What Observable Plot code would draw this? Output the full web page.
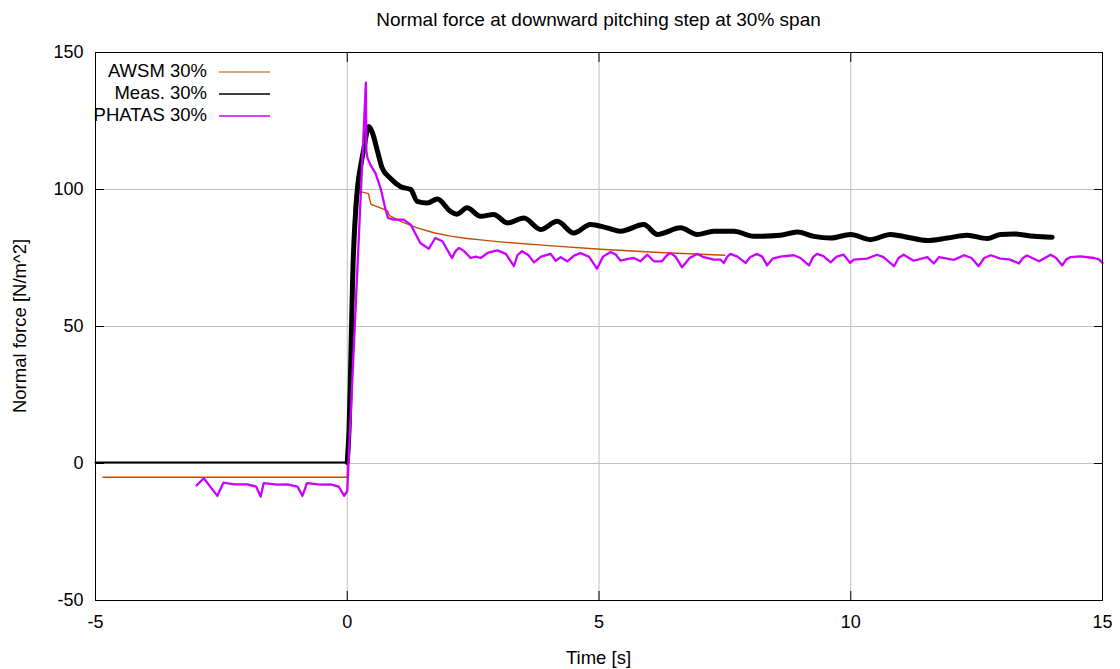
<!DOCTYPE html>
<html><head><meta charset="utf-8">
<script src="https://cdn.jsdelivr.net/npm/d3@7"></script>
<script src="https://cdn.jsdelivr.net/npm/@observablehq/plot@0.6"></script>
<style>
body{margin:0;background:#fff;font-family:"Liberation Sans",Arial,sans-serif;}
#wrap{position:relative;width:1120px;height:669px;overflow:hidden;}
.t{position:absolute;font-size:18.5px;line-height:18px;color:#000;white-space:nowrap;}
</style></head><body><div id="wrap"></div>
<script>
// ---- data ----
const titleText = "Normal force at downward pitching step at 30% span";
const xLabel = "Time [s]";
const yLabel = "Normal force [N/m^2]";
const xTicks = [-5, 0, 5, 10, 15];
const yTicks = [-50, 0, 50, 100, 150];
const seriesNames = ["AWSM 30%", "Meas. 30%", "PHATAS 30%"];
const seriesColors = ["#c84a00", "#000000", "#cc00ff"];

const awsmT = [-4.85,-0.01,0,0.12,0.15,0.26,0.42,0.47,0.66,0.8,0.84,1.06,1.39,1.72,2.05,2.38,2.65,3.04,4.0,5.03,6.2,7.5];
const awsmV = [-5,-5,-5,85,97.5,99.2,98.5,94.6,93.3,92.2,90.5,88.4,86,84.2,83,82.1,81.6,80.9,79.5,78.2,77,76];

const measT = [-5,0,0.03,0.12,0.2,0.28,0.33,0.43,0.5,0.6,0.69,0.86,1.06,1.26,1.39,1.59,1.79,2.05,2.18,2.38,2.65,2.91,3.18,3.51,3.84,4.17,4.5,4.83,5.16,5.43,5.89,6.16,6.62,6.95,7.28,7.68,8.07,8.6,8.94,9.27,9.6,10,10.39,10.79,11.12,11.52,11.92,12.31,12.71,12.97,13.24,13.64,14.0];
const measV = [0.4,0.4,10,75,100,110,115,123,120.7,114,108,104,101,100,95.7,95.1,96.5,92,91,93.3,90.2,90.9,87.8,89.6,85.4,88.4,84.1,87.2,86,84.8,87.2,83.6,86,83.6,84.8,84.8,82.9,83.3,84.5,82.9,82.3,83.6,81.7,83.6,82.6,81.4,82.3,83.3,82.1,83.6,83.8,82.9,82.6];

const phatasT = [-2.99,-2.85,-2.58,-2.46,-2.25,-1.99,-1.81,-1.72,-1.66,-1.39,-1.19,-0.99,-0.89,-0.8,-0.53,-0.33,-0.17,-0.06,0,0.37,0.38,0.4,0.46,0.56,0.66,0.76,0.81,0.92,1.12,1.26,1.45,1.62,1.75,1.89,2.08,2.15,2.22,2.32,2.45,2.55,2.65,2.8,2.98,3.15,3.31,3.38,3.47,3.6,3.71,3.85,4.04,4.14,4.24,4.37,4.5,4.63,4.8,4.96,5.08,5.23,5.33,5.43,5.55,5.69,5.82,5.96,6.09,6.25,6.35,6.42,6.52,6.65,6.8,6.95,7.08,7.28,7.41,7.48,7.55,7.61,7.75,7.91,8.0,8.14,8.24,8.34,8.45,8.6,8.87,9.0,9.17,9.25,9.33,9.45,9.6,9.72,9.86,9.99,10.06,10.33,10.52,10.65,10.86,10.95,11.05,11.25,11.52,11.65,11.75,12.05,12.25,12.4,12.54,12.65,12.78,12.97,13.15,13.34,13.42,13.5,13.74,13.97,14.08,14.2,14.28,14.36,14.56,14.83,14.93,15.0];
const phatasV = [-8,-5.4,-11.8,-7,-7.6,-7.6,-8.4,-12.1,-7.2,-7.7,-7.6,-8.4,-11.8,-7.2,-7.7,-7.6,-8.4,-11.8,-10,139,114,111.6,109,106,100.6,92.7,89.6,89,89,87.2,80.5,78.4,82.3,81.1,75,77.5,78.7,77.5,75,75.5,75,77,77.8,76.5,72,76,77.5,76,73.4,75.5,76.5,74,75.3,73.8,75.8,76.8,75.5,71.1,75.5,77.2,76.3,74,74.6,75,73.8,76.2,73.8,73.8,76,76.8,75.5,71.6,75,76.5,75.3,74.4,74.4,73.2,75.5,76.5,75.5,73.2,75.3,76.5,75.5,72.3,74.8,75.5,76,75,72.3,75.3,76.5,75.8,73.4,75.5,76.2,73.2,74.4,74.8,76.2,75.3,72,75,76.2,74,75.3,73,75.3,74.3,76,75,72,75,76,74.8,74.5,73,75,75.9,73.8,76.2,75,72.3,74.5,75.3,75.6,75,74.5,73.2];

// ---- build ----
const rows = (T, V) => T.map((t, i) => ({t, v: V[i]}));
const awsm = rows(awsmT, awsmV);
const meas = rows(measT, measV);
const phatas = rows(phatasT, phatasV);
const fmt = d => String(d);

const chart = Plot.plot({
  width: 1120, height: 669,
  marginTop: 52, marginBottom: 69, marginLeft: 95, marginRight: 18,
  x: {domain: [-5, 15]},
  y: {domain: [-50, 150]},
  style: {fontFamily: "'Liberation Sans', Arial, sans-serif", fontSize: "18px", background: "white", color: "black", overflow: "visible"},
  marks: [
    Plot.gridX(xTicks.slice(1, -1), {stroke: "#c0c0c0", strokeOpacity: 1, strokeWidth: 1}),
    Plot.gridY(yTicks.slice(1, -1), {stroke: "#c0c0c0", strokeOpacity: 1, strokeWidth: 1}),
    Plot.line(awsm, {x: "t", y: "v", stroke: seriesColors[0], strokeWidth: 1.4}),
    Plot.line(meas.filter(d => d.t <= 0), {x: "t", y: "v", stroke: seriesColors[1], strokeWidth: 2}),
    Plot.line(meas.filter(d => d.t >= 0), {x: "t", y: "v", stroke: seriesColors[1], strokeWidth: 5, curve: "monotone-x"}),
    Plot.line(phatas, {x: "t", y: "v", stroke: seriesColors[2], strokeWidth: 2.3}),
    Plot.frame({stroke: "black", strokeWidth: 1}),
    Plot.axisX(xTicks, {anchor: "bottom", tickSize: -9, tickPadding: 24, tickFormat: fmt, label: null}),
    Plot.axisX(xTicks, {anchor: "top", tickSize: -9, tickFormat: () => "", label: null}),
    Plot.axisY(yTicks, {anchor: "left", tickSize: -9, tickPadding: 21, tickFormat: fmt, label: null}),
    Plot.axisY(yTicks, {anchor: "right", tickSize: -9, tickFormat: () => "", label: null})
  ]
});

const wrap = document.getElementById("wrap");
wrap.appendChild(chart);
chart.style.position = "absolute"; chart.style.left = "0px"; chart.style.top = "0px";

function addText(txt, css) {
  const d = document.createElement("div");
  d.className = "t"; d.textContent = txt;
  Object.assign(d.style, css);
  wrap.appendChild(d);
  return d;
}
addText(titleText, {left: "95px", width: "1007px", textAlign: "center", top: "11px", fontSize: "19px"});
addText(xLabel, {left: "95px", width: "1007px", textAlign: "center", top: "649px"});
addText(yLabel, {left: "20px", top: "326px", transform: "translate(-50%,-50%) rotate(-90deg)"});

// legend
const ns = "http://www.w3.org/2000/svg";
const lg = document.createElementNS(ns, "svg");
lg.setAttribute("width", "1120"); lg.setAttribute("height", "669");
lg.style.position = "absolute"; lg.style.left = "0"; lg.style.top = "0"; lg.style.pointerEvents = "none";
wrap.appendChild(lg);
const legendWidths = [1.2, 1.6, 1.6];
seriesNames.forEach((name, i) => {
  const yc = 72 + i * 22;
  addText(name, {right: (1120 - 207) + "px", top: (yc - 10) + "px", textAlign: "right"});
  const ln = document.createElementNS(ns, "line");
  ln.setAttribute("x1", 219); ln.setAttribute("x2", 270);
  ln.setAttribute("y1", yc); ln.setAttribute("y2", yc);
  ln.setAttribute("stroke", seriesColors[i]); ln.setAttribute("stroke-width", legendWidths[i]);
  lg.appendChild(ln);
});
</script>
</body></html>
